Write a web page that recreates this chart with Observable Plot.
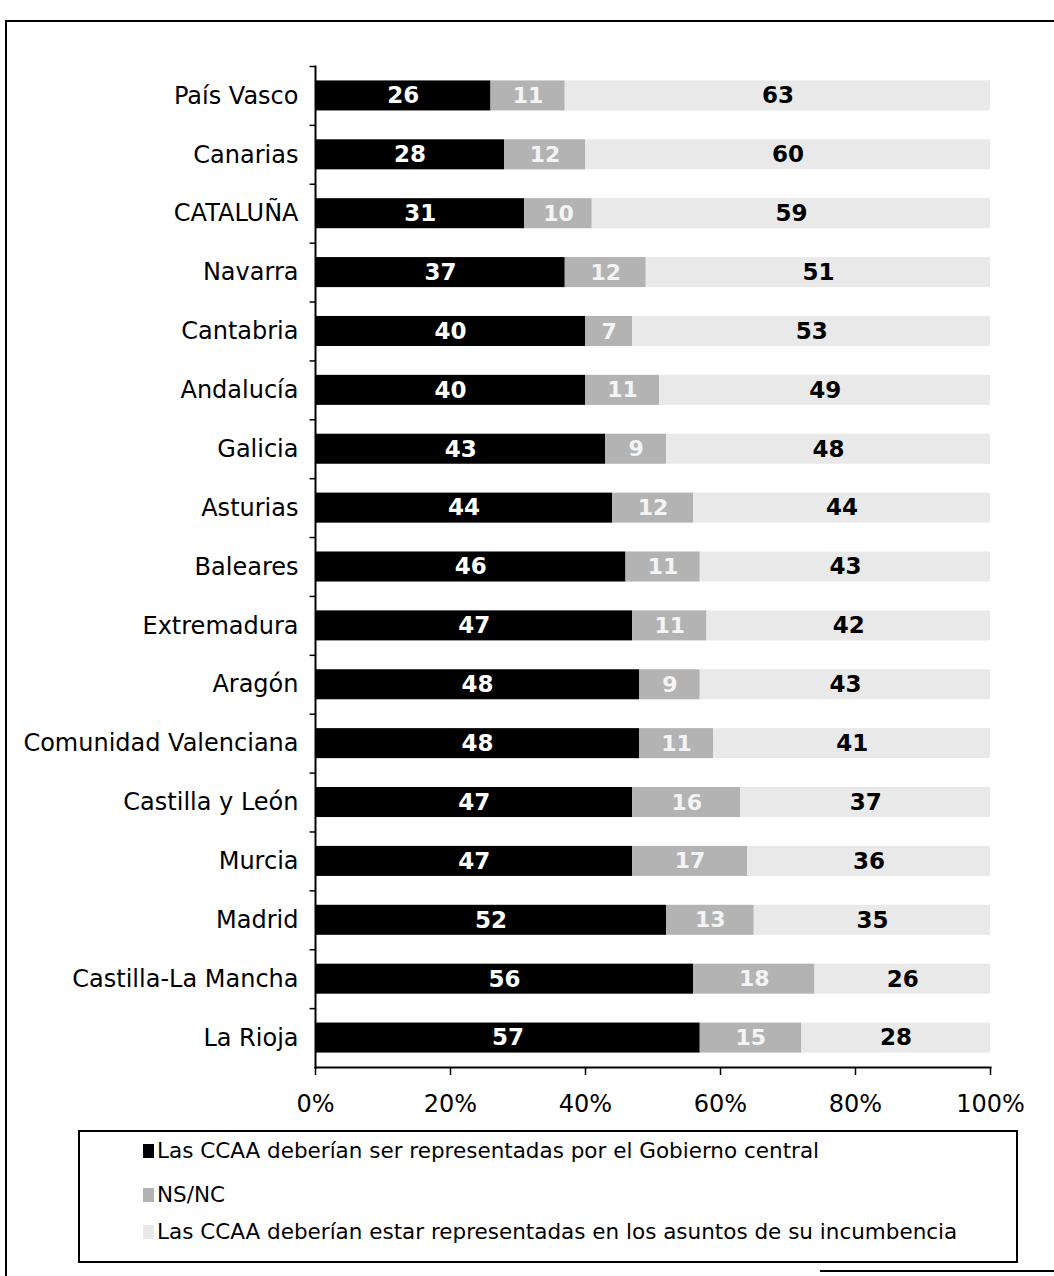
<!DOCTYPE html>
<html>
<head>
<meta charset="utf-8">
<script src="https://cdn.jsdelivr.net/npm/d3@7"></script>
<script src="https://cdn.jsdelivr.net/npm/@observablehq/plot@0.6"></script>
<style>
  html, body { margin: 0; padding: 0; background: #fff; }
  #page { position: relative; width: 1054px; height: 1276px; overflow: hidden; font-family: "DejaVu Sans", Verdana, sans-serif; }
  #frame { position: absolute; left: 5px; top: 20px; width: 1060px; height: 1270px; border-left: 2px solid #000; border-top: 2px solid #000; }
  #chart { position: absolute; left: 0; top: 0; }
  #legend { position: absolute; left: 78px; top: 1130px; width: 940px; height: 133px; border: 2px solid #000; box-sizing: border-box; font-size: 21.5px; line-height: 25px; color: #000; }
  .item { position: absolute; left: 63px; display: flex; align-items: center; white-space: nowrap; }
  .sw { width: 11px; height: 14px; margin-right: 3px; }
  #bline { position: absolute; left: 820px; top: 1270px; width: 240px; border-top: 2px solid #000; }
</style>
</head>
<body>
<div id="page">
  <div id="frame"></div>
  <div id="chart"></div>
  <div id="legend"></div>
  <div id="bline"></div>
</div>
<script>
const regions = ["País Vasco", "Canarias", "CATALUÑA", "Navarra", "Cantabria", "Andalucía", "Galicia", "Asturias", "Baleares", "Extremadura", "Aragón", "Comunidad Valenciana", "Castilla y León", "Murcia", "Madrid", "Castilla-La Mancha", "La Rioja"];
const gobiernoCentral = [26, 28, 31, 37, 40, 40, 43, 44, 46, 47, 48, 48, 47, 47, 52, 56, 57];
const nsnc = [11, 12, 10, 12, 7, 11, 9, 12, 11, 11, 9, 11, 16, 17, 13, 18, 15];
const asuntosIncumbencia = [63, 60, 59, 51, 53, 49, 48, 44, 43, 42, 43, 41, 37, 36, 35, 26, 28];
const seriesNames = [
  "Las CCAA deberían ser representadas por el Gobierno central",
  "NS/NC",
  "Las CCAA deberían estar representadas en los asuntos de su incumbencia"
];
const xTicks = [0, 20, 40, 60, 80, 100];
const colors = ["#000000", "#b3b3b3", "#e9e9e9"];

const seriesValues = [gobiernoCentral, nsnc, asuntosIncumbencia];
const data = [];
regions.forEach((r, i) => {
  seriesValues.forEach((vals, s) => {
    data.push({region: r, series: seriesNames[s], si: s, value: vals[i]});
  });
});

const W = 1054, H = 1122;
const mTop = 66, mBottom = 55, mLeft = 315, mRight = 64;
const step = (H - mTop - mBottom) / regions.length;

const stackOpts = {x: "value", y: "region", order: null};

const chart = Plot.plot({
  width: W,
  height: H,
  marginTop: mTop,
  marginBottom: mBottom,
  marginLeft: mLeft,
  marginRight: mRight,
  style: {fontFamily: "'DejaVu Sans', Verdana, sans-serif", background: "transparent", overflow: "visible"},
  x: {domain: [0, 100], ticks: xTicks, tickFormat: d => d + "%", label: null},
  y: {domain: regions, label: null, paddingInner: 0.49, paddingOuter: 0.245, round: false},
  color: {domain: seriesNames, range: colors},
  marks: [
    Plot.barX(data, Plot.stackX({...stackOpts, fill: "series", z: "si"})),
    Plot.text(data, Plot.stackX({...stackOpts, z: "si", text: d => d.si === 0 ? String(d.value) : "", fill: "#fff", fontSize: 23, fontWeight: "bold"})),
    Plot.text(data, Plot.stackX({...stackOpts, z: "si", text: d => d.si === 1 ? String(d.value) : "", fill: "#f4f4f4", fontSize: 22, fontWeight: "bold"})),
    Plot.text(data, Plot.stackX({...stackOpts, z: "si", text: d => d.si === 2 ? String(d.value) : "", fill: "#000", fontSize: 23, fontWeight: "bold"})),
    Plot.frame({anchor: "left", stroke: "#000", strokeWidth: 2}),
    Plot.frame({anchor: "bottom", stroke: "#000", strokeWidth: 2}),
    Plot.ruleY(regions, {y: d => d, x1: -0.8, x2: 0, dy: -step / 2, stroke: "#000", strokeWidth: 1.5}),
    Plot.axisY({tickSize: 0, tickPadding: 17, fontSize: 24, fill: "#000"}),
    Plot.axisX({anchor: "bottom", ticks: xTicks, tickFormat: d => d + "%", tickSize: 8, tickPadding: 19, fontSize: 24, stroke: "#000", strokeWidth: 1.5, label: null})
  ]
});
document.getElementById("chart").appendChild(chart);

const legend = document.getElementById("legend");
const tops = [6, 50, 87];
seriesNames.forEach((name, i) => {
  const it = document.createElement("div");
  it.className = "item";
  it.style.top = tops[i] + "px";
  const sw = document.createElement("span");
  sw.className = "sw";
  sw.style.background = colors[i];
  const tx = document.createElement("span");
  tx.textContent = name;
  it.appendChild(sw);
  it.appendChild(tx);
  legend.appendChild(it);
});
</script>
</body>
</html>
